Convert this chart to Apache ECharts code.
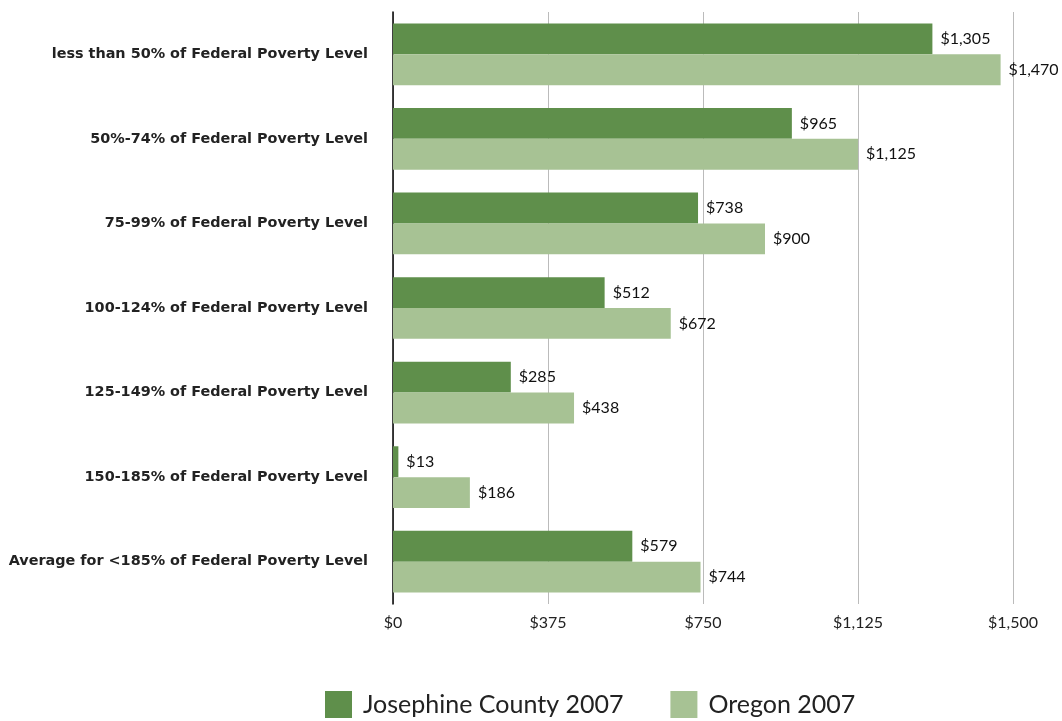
<!DOCTYPE html>
<html><head><meta charset="utf-8">
<script src="https://cdn.jsdelivr.net/npm/echarts@6/dist/echarts.min.js"></script>
<style>html,body{margin:0;padding:0;background:#fff}#c{width:1062px;height:721px}</style>
</head><body><div id="c"></div>
<script>
const categories = ["less than 50% of Federal Poverty Level","50%-74% of Federal Poverty Level","75-99% of Federal Poverty Level","100-124% of Federal Poverty Level","125-149% of Federal Poverty Level","150-185% of Federal Poverty Level","Average for <185% of Federal Poverty Level"];
const josephine = [1305, 965, 738, 512, 285, 13, 579];
const oregon = [1470, 1125, 900, 672, 438, 186, 744];
const seriesNames = ["Josephine County 2007", "Oregon 2007"];
const xTicks = [0, 375, 750, 1125, 1500];

const fmt = v => '$' + v.toLocaleString('en-US');
const FONT = 'Lato, "Open Sans", sans-serif';
const chart = echarts.init(document.getElementById('c'));
chart.setOption({
  animation: false,
  textStyle: {fontFamily: FONT},
  grid: {left: 393, right: 49, top: 12, bottom: 117, containLabel: false},
  legend: {
    top: 691, left: 325, padding: 0, itemWidth: 27, itemHeight: 27, itemGap: 47, icon: 'rect',
    textStyle: {fontSize: 25, color: '#222', fontFamily: FONT, padding: [0, 0, 0, 6]},
    data: seriesNames
  },
  xAxis: {
    type: 'value', min: 0, max: 1500, interval: 375,
    axisLine: {show: false}, axisTick: {show: false},
    splitLine: {lineStyle: {color: '#bbbbbb', width: 1}},
    axisLabel: {formatter: v => fmt(v), fontSize: 16, color: '#222', margin: 11, fontFamily: FONT}
  },
  yAxis: {
    type: 'category', data: categories, inverse: true,
    axisLine: {lineStyle: {color: '#000', width: 1.5}}, axisTick: {show: false},
    axisLabel: {fontSize: 14.4, fontWeight: 'bold', color: '#222', margin: 25, fontFamily: '"DejaVu Sans", sans-serif'}
  },
  series: [
    {name: seriesNames[0], type: 'bar', data: josephine, barGap: '0%', barCategoryGap: '27%',
     itemStyle: {color: '#5f8f4b'},
     label: {show: true, position: 'right', formatter: p => fmt(p.value), fontSize: 16, color: '#111', distance: 8, fontFamily: FONT}},
    {name: seriesNames[1], type: 'bar', data: oregon, barGap: '0%', barCategoryGap: '27%',
     itemStyle: {color: '#a7c294'},
     label: {show: true, position: 'right', formatter: p => fmt(p.value), fontSize: 16, color: '#111', distance: 8, fontFamily: FONT}}
  ]
});
</script></body></html>
